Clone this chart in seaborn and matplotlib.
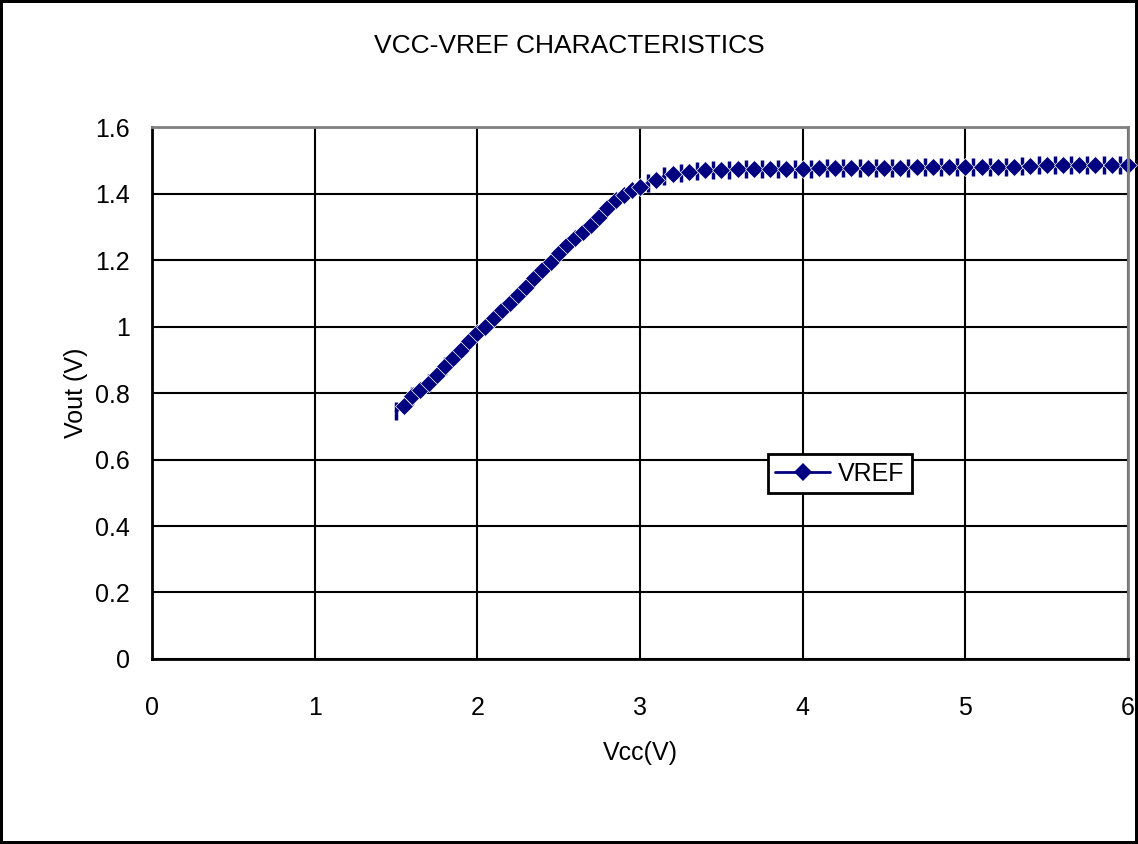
import numpy as np
import pandas as pd
import matplotlib
matplotlib.use("Agg")
import matplotlib.pyplot as plt
from matplotlib.lines import Line2D
import seaborn as sns

# measured points drawn with diamond markers
diamond_vcc = [1.55, 1.60, 1.65, 1.70, 1.75, 1.80, 1.85, 1.90, 1.95, 2.00,
               2.05, 2.10, 2.15, 2.20, 2.25, 2.30, 2.35, 2.40, 2.45, 2.50,
               2.55, 2.60, 2.65, 2.70, 2.75, 2.80, 2.85, 2.90, 2.95,
               3.0, 3.1, 3.2, 3.3, 3.4, 3.5, 3.6, 3.7, 3.8, 3.9, 4.0,
               4.1, 4.2, 4.3, 4.4, 4.5, 4.6, 4.7, 4.8, 4.9, 5.0,
               5.1, 5.2, 5.3, 5.4, 5.5, 5.6, 5.7, 5.8, 5.9, 6.0]
diamond_vout = [0.760, 0.790, 0.810, 0.830, 0.855, 0.880, 0.905, 0.930, 0.955, 0.980,
                1.000, 1.025, 1.050, 1.070, 1.095, 1.120, 1.145, 1.170, 1.195, 1.220,
                1.245, 1.265, 1.285, 1.305, 1.330, 1.355, 1.380, 1.395, 1.410,
                1.420, 1.442, 1.458, 1.466, 1.470, 1.472, 1.473, 1.474, 1.474, 1.475, 1.475,
                1.476, 1.477, 1.477, 1.478, 1.478, 1.478, 1.479, 1.479, 1.479, 1.480,
                1.480, 1.480, 1.481, 1.484, 1.485, 1.485, 1.486, 1.486, 1.486, 1.487]

# points drawn with a vertical bar marker
tick_vcc = [1.50, 1.60, 1.70, 1.80,
            3.05, 3.15, 3.25, 3.35, 3.45, 3.55, 3.65, 3.75, 3.85, 3.95,
            4.05, 4.15, 4.25, 4.35, 4.45, 4.55, 4.65, 4.75, 4.85, 4.95,
            5.05, 5.15, 5.25, 5.35, 5.45, 5.55, 5.65, 5.75, 5.85, 5.95]
tick_vout = [0.745, 0.790, 0.830, 0.880,
             1.432, 1.452, 1.463, 1.468, 1.471, 1.472, 1.473, 1.474, 1.474, 1.475,
             1.475, 1.476, 1.477, 1.477, 1.478, 1.478, 1.478, 1.479, 1.479, 1.480,
             1.480, 1.480, 1.480, 1.483, 1.485, 1.485, 1.485, 1.486, 1.486, 1.486]

x_ticks = [0, 1, 2, 3, 4, 5, 6]
y_ticks = [0, 0.2, 0.4, 0.6, 0.8, 1, 1.2, 1.4, 1.6]
y_labels = ["0", "0.2", "0.4", "0.6", "0.8", "1", "1.2", "1.4", "1.6"]

navy = "#000080"

sns.set_style("white")
plt.rcParams["font.family"] = ["Liberation Sans", "DejaVu Sans"]
plt.rcParams["text.color"] = "black"
plt.rcParams["axes.labelcolor"] = "black"
plt.rcParams["xtick.color"] = "black"
plt.rcParams["ytick.color"] = "black"

fig = plt.figure(figsize=(11.38, 8.44), dpi=100, edgecolor="black", linewidth=3)
ax = fig.add_axes([0.1336, 0.2192, 0.8576, 0.6303])

line_df = pd.DataFrame({"vcc": diamond_vcc + tick_vcc, "vout": diamond_vout + tick_vout})
line_df = line_df.sort_values("vcc")

sns.lineplot(data=line_df, x="vcc", y="vout", color=navy, lw=2, ax=ax,
             estimator=None, sort=True, clip_on=False)
sns.lineplot(x=tick_vcc, y=tick_vout, color=navy, marker="|", markersize=13,
             markeredgewidth=2.5, markeredgecolor=navy, linestyle="none",
             estimator=None, ax=ax, clip_on=False)
sns.lineplot(x=diamond_vcc, y=diamond_vout, color=navy, marker="D", markersize=9,
             markeredgewidth=0.5, markeredgecolor="white", linestyle="none",
             estimator=None, ax=ax, clip_on=False)

ax.set_xlim(0, 6)
ax.set_ylim(0, 1.6)
ax.set_xticks(x_ticks)
ax.set_yticks(y_ticks)
ax.set_yticklabels(y_labels)
ax.grid(True, color="black", lw=1.5)
ax.tick_params(length=0, labelsize=18)
ax.tick_params(axis="x", pad=27)
ax.tick_params(axis="y", pad=16)
for side in ["left", "bottom"]:
    ax.spines[side].set_color("black")
    ax.spines[side].set_linewidth(2)
for side in ["top", "right"]:
    ax.spines[side].set_color("#808080")
    ax.spines[side].set_linewidth(2)

ax.set_xlabel("Vcc(V)", fontsize=18, labelpad=15)
ax.set_ylabel("Vout (V)", fontsize=18, labelpad=5)
fig.text(0.5, 0.945, "VCC-VREF CHARACTERISTICS", ha="center", va="center", fontsize=19)

handle = Line2D([0], [0], color=navy, lw=2, marker="D", markersize=9, markeredgewidth=0)
leg = ax.legend([handle], ["VREF"], loc="lower left", bbox_to_anchor=(0.631, 0.312),
                fontsize=18, frameon=True, fancybox=False, edgecolor="black",
                framealpha=1, borderpad=0.3, handlelength=2.2, handletextpad=0.3,
                borderaxespad=0)
leg.get_frame().set_linewidth(2)

fig.savefig("out.png", dpi=100, edgecolor=fig.get_edgecolor())
